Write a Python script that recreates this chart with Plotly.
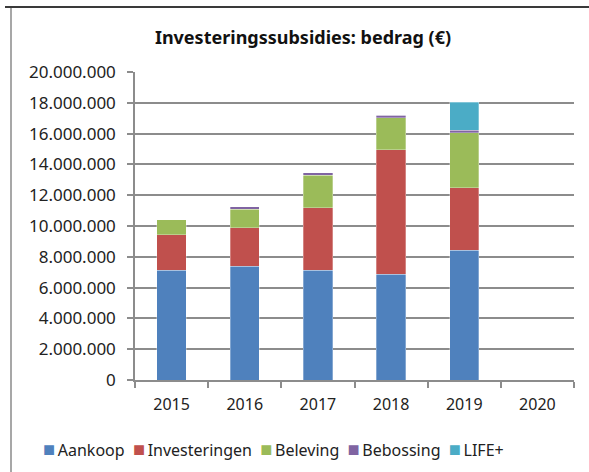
import plotly.graph_objects as go

years = ["2015", "2016", "2017", "2018", "2019", "2020"]
series_names = ["Aankoop", "Investeringen", "Beleving", "Bebossing", "LIFE+"]
aankoop = [7140000, 7400000, 7120000, 6860000, 8440000, None]
investeringen = [2280000, 2490000, 4070000, 8080000, 4050000, None]
beleving = [970000, 1190000, 2100000, 2090000, 3570000, None]
bebossing = [0, 170000, 170000, 170000, 170000, None]
life = [0, 0, 0, 0, 1820000, None]
colors = ["#4F81BD", "#C0504D", "#9BBB59", "#8064A2", "#4BACC6"]
y_ticks = list(range(0, 20000001, 2000000))

FONT = "Noto Sans"
values = [aankoop, investeringen, beleving, bebossing, life]

fig = go.Figure()
for name, vals, col in zip(series_names, values, colors):
    fig.add_trace(go.Bar(
        x=years, y=vals, name=name,
        marker=dict(color=col, line=dict(color="rgba(255,255,255,0.5)", width=0.6)),
        showlegend=False,
    ))

# Plot area in pixels: x 135..574, y 72..380
L, R, T, B = 135, 15, 72, 92
W, H = 589, 472
pw = W - L - R
ph = H - T - B

def px(x):
    return (x - L) / pw

def py(y):
    return (H - B - y) / ph

legend_text = "&nbsp;&nbsp;".join(
    f"<span style='color:{c};font-size:20px'>■</span>&#8201;{n}" for n, c in zip(series_names, colors)
)

fig.update_layout(
    width=W, height=H,
    margin=dict(l=L, r=R, t=T, b=B, pad=0),
    paper_bgcolor="white", plot_bgcolor="white",
    barmode="stack", bargap=0.6,
    separators=",.",
    font=dict(family=FONT, size=16, color="#222222"),
    title=dict(
        text="<b>Investeringssubsidies: bedrag (€)</b>",
        x=303 / W, xref="container", xanchor="center",
        y=1 - 38 / H, yref="container", yanchor="middle",
        font=dict(family=FONT, size=18, color="#111111"),
    ),
    xaxis=dict(
        type="category", showgrid=False, showline=True, linecolor="#8c8c8c", linewidth=1.5,
        ticks="outside", tickson="boundaries", ticklen=6, tickcolor="#8c8c8c", tickwidth=1.5,
        tickfont=dict(size=16), fixedrange=True, ticklabelstandoff=9,
    ),
    yaxis=dict(
        range=[0, 20000000], tickvals=y_ticks, tickformat=",d",
        showgrid=True, gridcolor="#8c8c8c", gridwidth=1.5,
        showline=True, linecolor="#8c8c8c", linewidth=1.5,
        ticks="outside", ticklen=6, tickcolor="#8c8c8c", tickwidth=1.5,
        tickfont=dict(size=17), zeroline=False, ticklabelstandoff=8,
    ),
    annotations=[dict(
        text=legend_text, xref="paper", yref="paper",
        x=px(273), y=py(448), xanchor="center", yanchor="middle",
        showarrow=False, font=dict(family=FONT, size=16, color="#222222"),
    )],
    shapes=[
        dict(type="line", xref="paper", yref="paper", x0=px(5), x1=px(589), y0=py(7), y1=py(7),
             line=dict(color="#3a3a3a", width=2)),
        dict(type="line", xref="paper", yref="paper", x0=px(11), x1=px(11), y0=py(8), y1=py(472),
             line=dict(color="#8a8a8a", width=1.5)),
    ],
)

fig.write_html(
    "out.html",
    config={"displayModeBar": False},
    post_script="document.body.style.margin='0px';document.body.style.overflow='hidden';",
)
